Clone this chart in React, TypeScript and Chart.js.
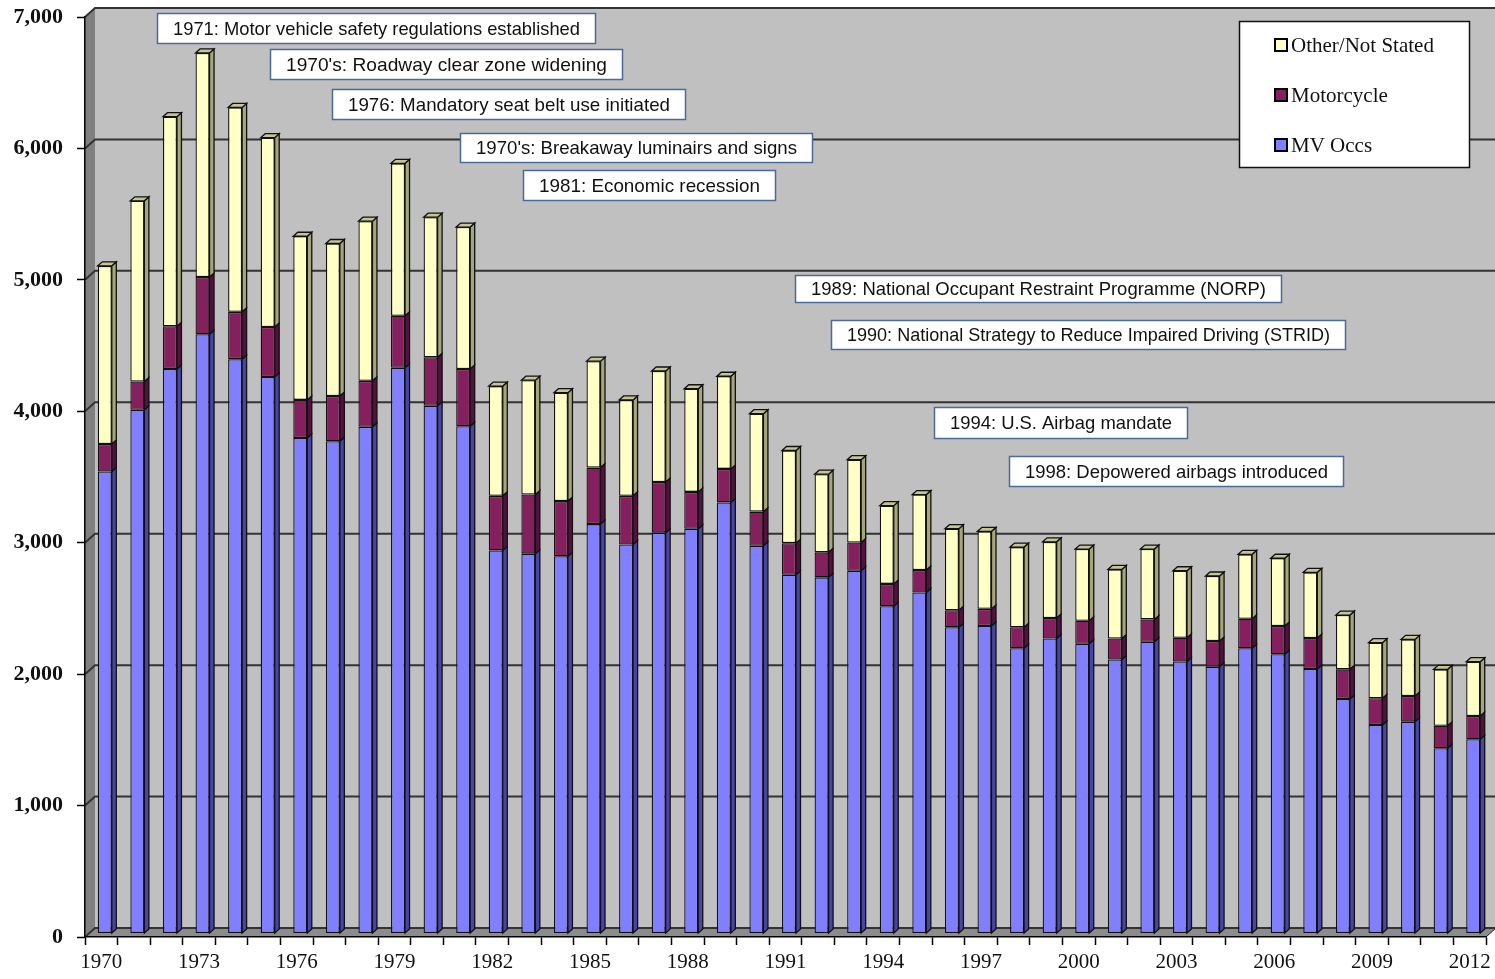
import React, { useEffect, useRef } from 'react';
import { Chart, registerables } from 'chart.js';

Chart.register(...registerables);

// ---------- data ----------
const years = [
  '1970', '1971', '1972', '1973', '1974', '1975', '1976', '1977', '1978', '1979',
  '1980', '1981', '1982', '1983', '1984', '1985', '1986', '1987', '1988', '1989',
  '1990', '1991', '1992', '1993', '1994', '1995', '1996', '1997', '1998', '1999',
  '2000', '2001', '2002', '2003', '2004', '2005', '2006', '2007', '2008', '2009',
  '2010', '2011', '2012',
];

const mvOccs = [
  3515, 3985, 4295, 4560, 4370, 4235, 3770, 3745, 3855, 4305,
  4015, 3860, 2915, 2890, 2870, 3115, 2960, 3050, 3080, 3280,
  2950, 2730, 2710, 2760, 2490, 2595, 2330, 2340, 2170, 2245,
  2205, 2085, 2220, 2070, 2030, 2170, 2125, 2012, 1784, 1586,
  1612, 1410, 1478,
];

const motorcycle = [
  210, 215, 325, 435, 360, 380, 290, 345, 350, 395,
  370, 435, 415, 450, 420, 430, 370, 385, 280, 255,
  260, 240, 190, 215, 170, 170, 130, 130, 160, 155,
  175, 160, 170, 180, 195, 225, 215, 236, 226, 204,
  195, 171, 177,
];

const otherNotStated = [
  1355, 1375, 1595, 1705, 1555, 1440, 1245, 1160, 1215, 1160,
  1065, 1080, 835, 870, 825, 810, 730, 845, 785, 705,
  745, 705, 595, 630, 595, 575, 620, 590, 610, 580,
  545, 525, 535, 510, 495, 490, 515, 500, 413, 423,
  431, 429, 413,
];

const seriesNames = ['MV Occs', 'Motorcycle', 'Other/Not Stated'];

const annotationTexts = [
  '1971: Motor vehicle safety regulations established',
  "1970's: Roadway clear zone widening",
  '1976: Mandatory seat belt use initiated',
  "1970's: Breakaway luminairs and signs",
  '1981: Economic recession',
  '1989: National Occupant Restraint Programme (NORP)',
  '1990: National Strategy to Reduce Impaired Driving (STRID)',
  '1994: U.S. Airbag mandate',
  '1998: Depowered airbags introduced',
];

// ---------- styling / layout ----------
const annotationBoxes: [number, number, number, number][] = [
  [157, 13, 439, 31],
  [270, 49, 353, 31],
  [332, 89, 354, 31],
  [460, 133, 353, 30],
  [523, 170, 253, 31],
  [795, 275, 487, 28],
  [831, 320, 515, 30],
  [934, 407, 254, 32],
  [1009, 456, 335, 31],
];

const frontColors = ['#8080FF', '#84205E', '#FFFFC6'];
const sideColors = ['#4646A8', '#561040', '#A6A678'];
const capColors = ['#6A6AD8', '#6A1850', '#C4C496'];

const WALL_DX = 10;
const WALL_DY = 9;
const BAR_DX = 4.5;
const BAR_DY = 4;
const SHIFT_X = 3.5;
const SHIFT_Y = -3.5;

const wallsPlugin = {
  id: 'walls3d',
  beforeDraw(chart: any) {
    const { ctx, chartArea } = chart;
    const { left, right, top, bottom } = chartArea;
    const yScale = chart.scales.y;
    ctx.save();
    ctx.fillStyle = '#ffffff';
    ctx.fillRect(0, 0, chart.width, chart.height);
    // back wall
    ctx.fillStyle = '#C0C0C0';
    ctx.fillRect(left + WALL_DX, top - WALL_DY, chart.width - (left + WALL_DX), bottom - top);
    // left side wall
    ctx.fillStyle = '#808080';
    ctx.beginPath();
    ctx.moveTo(left, top);
    ctx.lineTo(left + WALL_DX, top - WALL_DY);
    ctx.lineTo(left + WALL_DX, bottom - WALL_DY);
    ctx.lineTo(left, bottom);
    ctx.closePath();
    ctx.fill();
    // floor
    ctx.fillStyle = '#8C8C8C';
    ctx.beginPath();
    ctx.moveTo(left, bottom);
    ctx.lineTo(left + WALL_DX, bottom - WALL_DY);
    ctx.lineTo(right + WALL_DX, bottom - WALL_DY);
    ctx.lineTo(right, bottom);
    ctx.closePath();
    ctx.fill();
    ctx.strokeStyle = '#222';
    ctx.lineWidth = 1;
    ctx.beginPath();
    ctx.moveTo(right, bottom);
    ctx.lineTo(right + WALL_DX, bottom - WALL_DY);
    ctx.stroke();
    // gridlines along walls
    ctx.strokeStyle = '#333333';
    ctx.lineWidth = 2;
    yScale.ticks.forEach((t: any) => {
      const y = yScale.getPixelForValue(t.value);
      ctx.beginPath();
      ctx.moveTo(left, y);
      ctx.lineTo(left + WALL_DX, y - WALL_DY);
      ctx.lineTo(chart.width, y - WALL_DY);
      ctx.stroke();
    });
    ctx.restore();
  },
  beforeDatasetsDraw(chart: any) {
    chart.ctx.save();
    chart.ctx.translate(SHIFT_X, SHIFT_Y);
  },
  afterDatasetsDraw(chart: any) {
    const ctx = chart.ctx;
    const n = chart.data.labels.length;
    const metas = chart.data.datasets.map((_: any, i: number) => chart.getDatasetMeta(i));
    ctx.lineWidth = 1.3;
    ctx.strokeStyle = '#111';
    for (let j = 0; j < n; j++) {
      let topIdx = -1;
      metas.forEach((meta: any, di: number) => {
        const el = meta.data[j];
        if (!el) return;
        const { x, y, base, width } = el.getProps(['x', 'y', 'base', 'width'], true);
        const x1 = x + width / 2;
        ctx.fillStyle = sideColors[di];
        ctx.beginPath();
        ctx.moveTo(x1, y);
        ctx.lineTo(x1 + BAR_DX, y - BAR_DY);
        ctx.lineTo(x1 + BAR_DX, base - BAR_DY);
        ctx.lineTo(x1, base);
        ctx.closePath();
        ctx.fill();
        ctx.stroke();
        if (chart.data.datasets[di].data[j] > 0) topIdx = di;
      });
      if (topIdx >= 0) {
        const el = metas[topIdx].data[j];
        const { x, y, width } = el.getProps(['x', 'y', 'width'], true);
        const x0 = x - width / 2;
        const x1 = x + width / 2;
        ctx.fillStyle = capColors[topIdx];
        ctx.beginPath();
        ctx.moveTo(x0, y);
        ctx.lineTo(x0 + BAR_DX, y - BAR_DY);
        ctx.lineTo(x1 + BAR_DX, y - BAR_DY);
        ctx.lineTo(x1, y);
        ctx.closePath();
        ctx.fill();
        ctx.stroke();
      }
    }
    ctx.restore();
  },
};

const overlayPlugin = {
  id: 'overlay',
  afterDraw(chart: any) {
    const ctx = chart.ctx;
    ctx.save();
    // annotation boxes
    annotationTexts.forEach((txt, i) => {
      const [bx, by, bw, bh] = annotationBoxes[i];
      ctx.fillStyle = '#ffffff';
      ctx.fillRect(bx, by, bw, bh);
      ctx.strokeStyle = '#4A6A9C';
      ctx.lineWidth = 1.5;
      ctx.strokeRect(bx + 0.5, by + 0.5, bw - 1, bh - 1);
      ctx.font = '19px "Liberation Sans", Arial, sans-serif';
      ctx.fillStyle = '#111';
      ctx.textBaseline = 'middle';
      ctx.textAlign = 'left';
      const target = bw - 32;
      const m = ctx.measureText(txt).width;
      const s = Math.max(0.78, Math.min(1.08, target / m));
      ctx.save();
      ctx.translate(bx + bw / 2 - (m * s) / 2, by + bh / 2 + 1);
      ctx.scale(s, 1);
      ctx.fillText(txt, 0, 0);
      ctx.restore();
    });
    // legend
    const lx = 1239, ly = 21, lw = 231, lh = 147;
    ctx.fillStyle = '#ffffff';
    ctx.fillRect(lx, ly, lw, lh);
    ctx.strokeStyle = '#111';
    ctx.lineWidth = 1.5;
    ctx.strokeRect(lx + 0.5, ly + 0.5, lw - 1, lh - 1);
    const order = [2, 1, 0];
    order.forEach((di, r) => {
      const cy = 45 + r * 50;
      ctx.fillStyle = frontColors[di];
      ctx.fillRect(1275, cy - 6, 12, 12);
      ctx.strokeStyle = '#000';
      ctx.lineWidth = 2;
      ctx.strokeRect(1275, cy - 6, 12, 12);
      ctx.fillStyle = '#111';
      ctx.font = '21px "Liberation Serif", "Times New Roman", serif';
      ctx.textAlign = 'left';
      ctx.textBaseline = 'middle';
      ctx.fillText(chart.data.datasets[di].label, 1291, cy + 1);
    });
    ctx.restore();
  },
};

export default function App() {
  const ref = useRef<HTMLCanvasElement | null>(null);
  useEffect(() => {
    if (!ref.current) return;
    const dataArrays = [mvOccs, motorcycle, otherNotStated];
    const chart = new Chart(ref.current, {
      type: 'bar',
      data: {
        labels: years,
        datasets: dataArrays.map((d, i) => ({
          label: seriesNames[i],
          data: d,
          backgroundColor: frontColors[i],
          borderColor: '#111',
          borderWidth: 1.3,
          borderSkipped: false,
          barPercentage: 0.43,
          categoryPercentage: 1,
        })),
      },
      options: {
        responsive: false,
        animation: false,
        events: [],
        layout: { padding: { top: 17, right: 9, left: 0, bottom: 0 } },
        plugins: {
          legend: { display: false },
          tooltip: { enabled: false },
          title: { display: false },
        },
        scales: {
          x: {
            type: 'category',
            stacked: true,
            grid: {
              display: true,
              drawOnChartArea: false,
              drawTicks: true,
              tickLength: 8,
              tickWidth: 1.5,
              color: '#000',
              offset: true,
            },
            border: { display: true, color: '#000', width: 1.5 },
            ticks: {
              autoSkip: false,
              maxRotation: 0,
              minRotation: 0,
              padding: 5,
              color: '#111',
              font: { family: '"Liberation Serif", "Times New Roman", serif', size: 21 },
              callback: (_v: any, i: number) => (i % 3 === 0 ? years[i] : ''),
            },
            afterFit: (s: any) => {
              s.height = 42;
              s.paddingLeft = 0;
              s.paddingRight = 0;
            },
          },
          y: {
            stacked: true,
            min: 0,
            max: 7000,
            grid: {
              display: true,
              drawOnChartArea: false,
              drawTicks: true,
              tickLength: 8,
              tickWidth: 1.5,
              color: '#000',
            },
            border: { display: true, color: '#000', width: 1.5 },
            ticks: {
              stepSize: 1000,
              padding: 14,
              color: '#111',
              font: { family: '"Liberation Serif", "Times New Roman", serif', size: 22, weight: 'bold' },
              callback: (v: any) => Number(v).toLocaleString('en-US'),
            },
            afterFit: (s: any) => {
              s.width = 85;
              s.paddingTop = 0;
              s.paddingBottom = 0;
            },
          },
        },
      },
      plugins: [wallsPlugin, overlayPlugin],
    } as any);
    return () => chart.destroy();
  }, []);
  return (
    <div style={{ position: 'absolute', left: 0, top: 0, width: 1495, height: 979, background: '#fff' }}>
      <canvas ref={ref} width={1495} height={979} style={{ display: 'block' }} />
    </div>
  );
}
